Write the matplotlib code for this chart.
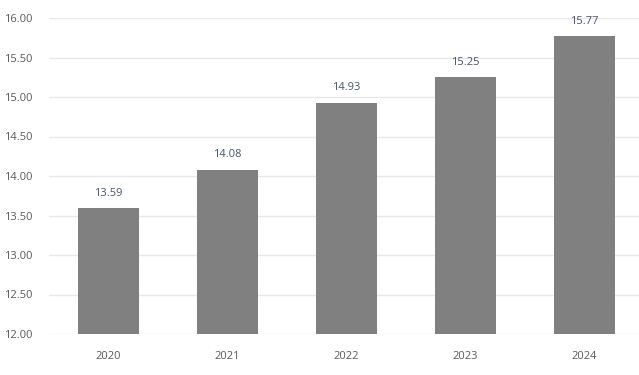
import matplotlib
matplotlib.use("Agg")
import matplotlib.pyplot as plt

years = ["2020", "2021", "2022", "2023", "2024"]
values = [13.59, 14.08, 14.93, 15.25, 15.77]
y_ticks = [12.0, 12.5, 13.0, 13.5, 14.0, 14.5, 15.0, 15.5, 16.0]

plt.rcParams['font.family'] = ['Open Sans', 'DejaVu Sans']

fig = plt.figure(figsize=(6.39, 3.75), dpi=100)
# axes slightly wider than the figure so the last slot runs off the edge
ax = fig.add_axes([49/639, 1 - 334/375, 595/639, (334 - 18)/375])

x = range(len(years))
ax.bar(x, values, width=0.51, color="#808080", zorder=3)

for xi, v in zip(x, values):
    ax.text(xi, v + 0.12, "%.2f" % v, ha="center", va="bottom",
            fontsize=8, color="#44546a")

ax.set_xlim(-0.5, len(years) - 0.5)
ax.set_ylim(12, 16)
ax.set_yticks(y_ticks)
ax.set_yticklabels(["%.2f" % t for t in y_ticks])
ax.set_xticks(list(x))
ax.set_xticklabels(years)

ax.grid(axis="y", color="#e8e8e8", linewidth=1, zorder=0)
for s in ax.spines.values():
    s.set_visible(False)
ax.tick_params(axis="both", length=0, labelsize=8, colors="#595959")
ax.tick_params(axis="x", pad=12)
ax.tick_params(axis="y", pad=12)

fig.savefig("out.png", dpi=100)
